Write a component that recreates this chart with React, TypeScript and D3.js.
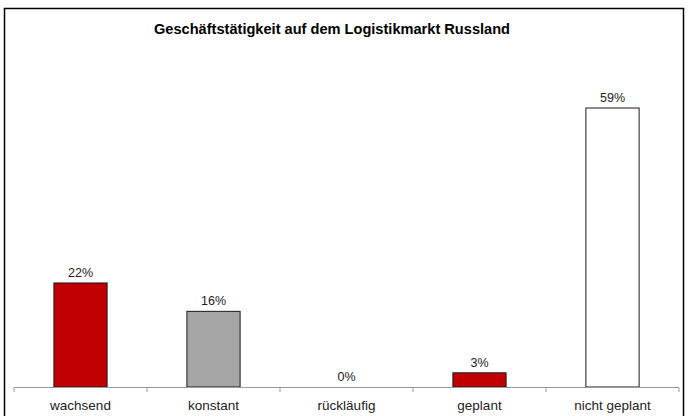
import React from "react";
import * as d3 from "d3";

const categories = ["wachsend", "konstant", "rückläufig", "geplant", "nicht geplant"];
const values = [22, 16, 0, 3, 59];
const colors = ["#C00000", "#A6A6A6", "#C00000", "#C00000", "#FFFFFF"];
const title = "Geschäftstätigkeit auf dem Logistikmarkt Russland";

const W = 688;
const H = 416;

export default function App() {
  const x = d3.scaleBand<string>().domain(categories).range([14, 679]).paddingInner(0.6).paddingOuter(0.3);
  const band = d3.scaleBand<string>().domain(categories).range([14, 679]);
  const y = d3.scaleLinear().domain([0, 70]).range([387, 56]);
  const font = "'Liberation Sans', Arial, Helvetica, sans-serif";
  const ticks = [14, ...categories.map((c) => (band(c) as number) + band.bandwidth())];
  return (
    <svg width={W} height={H} style={{ position: "absolute", left: 0, top: 0, background: "#fff" }} fontFamily={font}>
      <rect x={4.5} y={8.5} width={679} height={420} fill="#fff" stroke="#000" strokeWidth={1.5} />
      <text x={332} y={34} textAnchor="middle" fontSize={14.6} fontWeight="bold" fill="#000">
        {title}
      </text>
      {categories.map((c, i) => {
        const bx = x(c) as number;
        const bw = x.bandwidth();
        const yt = y(values[i]);
        const h = y(0) - yt;
        return (
          <g key={c}>
            {values[i] > 0 && (
              <rect x={bx} y={yt} width={bw} height={h} fill={colors[i]} stroke="#1a1a1a" strokeWidth={1} />
            )}
            <text x={bx + bw / 2} y={yt - 6} textAnchor="middle" fontSize={12.5} fill="#222">
              {values[i]}%
            </text>
            <text x={bx + bw / 2} y={410} textAnchor="middle" fontSize={13.5} fill="#222">
              {c}
            </text>
          </g>
        );
      })}
      <line x1={14} x2={679} y1={387.5} y2={387.5} stroke="#999" strokeWidth={1} />
      {ticks.map((t, i) => (
        <line key={i} x1={t} x2={t} y1={387.5} y2={392} stroke="#999" strokeWidth={1} />
      ))}
    </svg>
  );
}
